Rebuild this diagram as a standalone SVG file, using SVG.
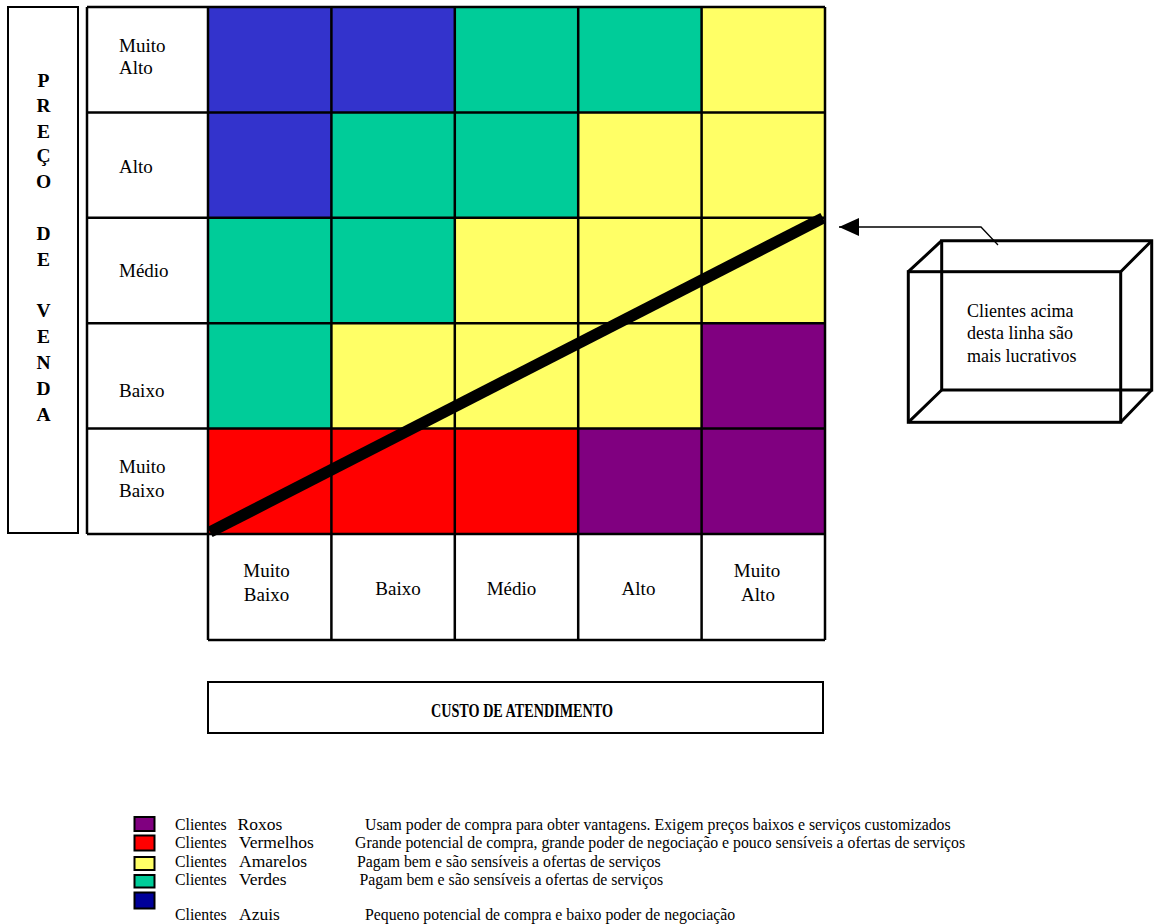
<svg xmlns="http://www.w3.org/2000/svg" width="1154" height="924" viewBox="0 0 1154 924">
  <style>
    .lbl { font-family: "Liberation Serif", "Times New Roman", serif; font-size: 19px; fill: #000; }
    .axis { font-family: "Liberation Serif", "Times New Roman", serif; font-size: 19.5px; font-weight: bold; fill: #000; }
    .box-txt { font-family: "Liberation Serif", "Times New Roman", serif; font-size: 18px; fill: #000; }
    .leg { font-family: "Liberation Serif", "Times New Roman", serif; font-size: 15.8px; fill: #000; }
    .nm { font-size: 17.5px; }
    .grid { stroke: #000; stroke-width: 2.5; fill: none; }
    .frame { stroke: #000; stroke-width: 2; fill: none; }
    .cube { stroke: #000; stroke-width: 3; fill: none; stroke-linejoin: miter; }
    .blue { fill: #3333CC; }
    .green { fill: #00CC99; }
    .yellow { fill: #FFFF66; }
    .red { fill: #FF0000; }
    .purple { fill: #800080; }
    .sw { stroke: #000; stroke-width: 2; }
  </style>
  <defs>
    <marker id="head" markerUnits="userSpaceOnUse" viewBox="0 0 20 18" refX="20" refY="9" markerWidth="20" markerHeight="18" orient="auto">
      <path d="M0,0 L20,9 L0,18 Z" fill="#000"/>
    </marker>
  </defs>

  <rect width="1154" height="924" fill="#fff"/>

  <!-- vertical axis title -->
  <g id="axis-preco">
    <rect class="frame" x="8" y="7" width="70" height="526"/>
    <g class="axis" text-anchor="middle">
      <text x="43.5" y="86.5">P</text>
      <text x="43.5" y="112">R</text>
      <text x="43.5" y="137.5">E</text>
      <text x="43.5" y="162">Ç</text>
      <text x="43.5" y="188">O</text>
      <text x="43.5" y="239.5">D</text>
      <text x="43.5" y="266">E</text>
      <text x="43.5" y="317">V</text>
      <text x="43.5" y="343">E</text>
      <text x="43.5" y="368.5">N</text>
      <text x="43.5" y="394.5">D</text>
      <text x="43.5" y="420.5">A</text>
    </g>
  </g>

  <!-- price level cells -->
  <g id="cells">
    <rect class="blue" x="208" y="7" width="123.4" height="105.4"/>
    <rect class="blue" x="331.4" y="7" width="123.4" height="105.4"/>
    <rect class="green" x="454.8" y="7" width="123.4" height="105.4"/>
    <rect class="green" x="578.2" y="7" width="123.4" height="105.4"/>
    <rect class="yellow" x="701.6" y="7" width="123.4" height="105.4"/>

    <rect class="blue" x="208" y="112.4" width="123.4" height="105.4"/>
    <rect class="green" x="331.4" y="112.4" width="123.4" height="105.4"/>
    <rect class="green" x="454.8" y="112.4" width="123.4" height="105.4"/>
    <rect class="yellow" x="578.2" y="112.4" width="123.4" height="105.4"/>
    <rect class="yellow" x="701.6" y="112.4" width="123.4" height="105.4"/>

    <rect class="green" x="208" y="217.8" width="123.4" height="105.4"/>
    <rect class="green" x="331.4" y="217.8" width="123.4" height="105.4"/>
    <rect class="yellow" x="454.8" y="217.8" width="123.4" height="105.4"/>
    <rect class="yellow" x="578.2" y="217.8" width="123.4" height="105.4"/>
    <rect class="yellow" x="701.6" y="217.8" width="123.4" height="105.4"/>

    <rect class="green" x="208" y="323.2" width="123.4" height="105.4"/>
    <rect class="yellow" x="331.4" y="323.2" width="123.4" height="105.4"/>
    <rect class="yellow" x="454.8" y="323.2" width="123.4" height="105.4"/>
    <rect class="yellow" x="578.2" y="323.2" width="123.4" height="105.4"/>
    <rect class="purple" x="701.6" y="323.2" width="123.4" height="105.4"/>

    <rect class="red" x="208" y="428.6" width="123.4" height="105.4"/>
    <rect class="red" x="331.4" y="428.6" width="123.4" height="105.4"/>
    <rect class="red" x="454.8" y="428.6" width="123.4" height="105.4"/>
    <rect class="purple" x="578.2" y="428.6" width="123.4" height="105.4"/>
    <rect class="purple" x="701.6" y="428.6" width="123.4" height="105.4"/>
  </g>

  <!-- table rules -->
  <g id="table-lines" class="grid">
    <path d="M87,7 H825 M87,112.4 H825 M87,217.8 H825 M87,323.2 H825 M87,428.6 H825 M87,534 H825 M208,640 H825"/>
    <path d="M87,7 V534 M208,7 V640 M331.4,7 V640 M454.8,7 V640 M578.2,7 V640 M701.6,7 V640 M825,7 V640"/>
  </g>

  <!-- row labels -->
  <g id="row-labels" class="lbl">
    <text x="119" y="51.5">Muito<tspan x="119" y="74">Alto</tspan></text>
    <text x="119" y="172.5">Alto</text>
    <text x="119" y="277">Médio</text>
    <text x="119" y="396.5">Baixo</text>
    <text x="119" y="472.5">Muito<tspan x="119" y="496.5">Baixo</tspan></text>
  </g>

  <!-- column labels -->
  <g id="col-labels" class="lbl" text-anchor="middle">
    <text x="266.5" y="577">Muito<tspan x="266.5" y="600.5">Baixo</tspan></text>
    <text x="398" y="595">Baixo</text>
    <text x="511.5" y="595">Médio</text>
    <text x="638.5" y="595">Alto</text>
    <text x="757" y="577">Muito<tspan x="758" y="600.5">Alto</tspan></text>
  </g>

  <!-- horizontal axis title -->
  <g id="axis-custo">
    <rect class="frame" x="208" y="682" width="615" height="51"/>
    <text x="522" y="717" text-anchor="middle" textLength="182" lengthAdjust="spacingAndGlyphs" style="font-family: 'Liberation Serif', 'Times New Roman', serif; font-size: 19px; font-weight: bold;">CUSTO DE ATENDIMENTO</text>
  </g>

  <!-- callout box -->
  <g id="callout">
    <rect class="cube" x="908.3" y="271.7" width="212.4" height="150.6"/>
    <path class="cube" d="M941.7,240.7 H1151.7 V390 H941.7 Z"/>
    <path class="cube" d="M908.3,271.7 L941.7,240.7 M1120.7,271.7 L1151.7,240.7 M908.3,422.3 L941.7,390 M1120.7,422.3 L1151.7,390"/>
    <g class="box-txt">
      <text x="967" y="317">Clientes acima</text>
      <text x="967" y="339">desta linha são</text>
      <text x="967" y="361.5">mais lucrativos</text>
    </g>
  </g>

  <!-- connectors -->
  <g id="connectors">
    <line x1="210" y1="532" x2="823" y2="218" stroke="#000" stroke-width="11.5"/>
    <path d="M998,245 L981,227 L839,227" fill="none" stroke="#000" stroke-width="1.3" marker-end="url(#head)"/>
  </g>

  <!-- legend -->
  <g id="legend">
    <rect class="sw" x="134.5" y="817" width="20" height="14" fill="#800080"/>
    <rect class="sw" x="134.5" y="835.5" width="20" height="15" fill="#FF0000"/>
    <rect class="sw" x="134.5" y="857" width="20" height="13" fill="#FFFF66"/>
    <rect class="sw" x="134.5" y="875" width="20" height="12.5" fill="#00CC99"/>
    <rect class="sw" x="134.5" y="892.5" width="20" height="16" fill="#000099"/>

    <g class="leg">
      <text x="175" y="829.5">Clientes <tspan class="nm" x="237.5">Roxos</tspan></text>
      <text x="175" y="848">Clientes <tspan class="nm" x="239">Vermelhos</tspan></text>
      <text x="175" y="866.5">Clientes <tspan class="nm" x="239">Amarelos</tspan></text>
      <text x="175" y="885">Clientes <tspan class="nm" x="239">Verdes</tspan></text>
      <text x="175" y="919.5">Clientes <tspan class="nm" x="239">Azuis</tspan></text>

      <text x="365" y="829.5">Usam poder de compra para obter vantagens. Exigem preços baixos e serviços customizados</text>
      <text x="355" y="848">Grande potencial de compra, grande poder de negociação e pouco sensíveis a ofertas de serviços</text>
      <text x="357" y="866.5">Pagam bem e são sensíveis a ofertas de serviços</text>
      <text x="359.5" y="885">Pagam bem e são sensíveis a ofertas de serviços</text>
      <text x="365" y="919.5">Pequeno potencial de compra e baixo poder de negociação</text>
    </g>
  </g>
</svg>
